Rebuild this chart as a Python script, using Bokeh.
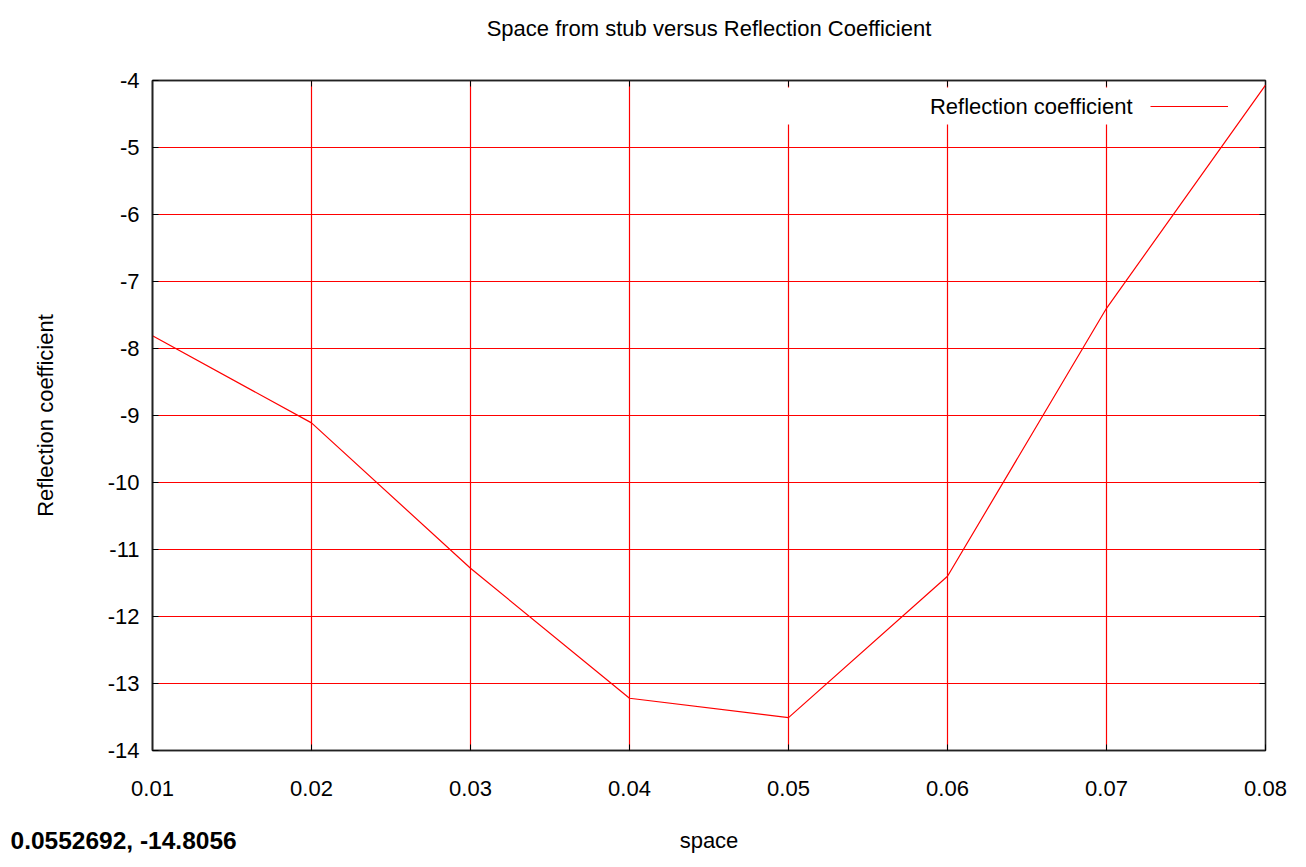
import math
from bokeh.plotting import figure
from bokeh.models import (Range1d, FixedTicker, LinearAxis, Label, BoxAnnotation,
                          Legend, LegendItem, Title, PrintfTickFormatter)
from bokeh.embed import file_html
from bokeh.resources import INLINE

# ---- data ----
space = [0.01, 0.02, 0.03, 0.04, 0.05, 0.06, 0.07, 0.08]
reflection = [-7.81, -9.11, -11.28, -13.22, -13.51, -11.40, -7.40, -4.07]
x_ticks = [0.01, 0.02, 0.03, 0.04, 0.05, 0.06, 0.07, 0.08]
y_ticks = [-14, -13, -12, -11, -10, -9, -8, -7, -6, -5, -4]
x_min, x_max = 0.01, 0.08
y_min, y_max = -14, -4

title_text = "Space from stub versus Reflection Coefficient"
x_label = "space"
y_label = "Reflection coefficient"
series_name = "Reflection coefficient"
coord_text = "0.0552692, -14.8056"

FONT = "Liberation Sans"
RED = "#ff0000"
FS = "22px"
FRAME = "#222222"

p = figure(width=1306, height=867, output_backend="svg", toolbar_location=None,
           x_range=Range1d(x_min, x_max), y_range=Range1d(y_min, y_max),
           x_axis_location=None, y_axis_location=None,
           min_border_left=152, min_border_right=41, min_border_top=80, min_border_bottom=117)
p.background_fill_color = "white"
p.border_fill_color = "white"
p.outline_line_color = FRAME
p.outline_line_width = 1.6

xt = FixedTicker(ticks=x_ticks)
yt = FixedTicker(ticks=y_ticks)


def make_axis(ticker, fmt, standoff):
    ax = LinearAxis(ticker=ticker, formatter=PrintfTickFormatter(format=fmt))
    ax.axis_line_color = FRAME
    ax.axis_line_width = 1.6
    ax.major_tick_in = 6
    ax.major_tick_out = 0
    ax.major_tick_line_color = "black"
    ax.minor_tick_line_color = None
    ax.major_label_text_font = FONT
    ax.major_label_text_color = "black"
    ax.major_label_standoff = standoff
    ax.major_label_text_font_size = FS
    ax.axis_label_text_font = FONT
    ax.axis_label_text_font_size = FS
    ax.axis_label_text_font_style = "normal"
    ax.axis_label_text_color = "black"
    return ax


xb = make_axis(xt, "%.2f", 30)
yl = make_axis(yt, "%d", 13)
xb.axis_label = x_label
xb.axis_label_standoff = 29
yl.axis_label = y_label
yl.axis_label_standoff = 47
p.add_layout(xb, "below")
p.add_layout(yl, "left")

# top axis carries the chart title (no ticks of its own)
xa = make_axis(FixedTicker(ticks=[]), "%.2f", 0)
xa.axis_label = title_text
xa.axis_label_standoff = 40
p.add_layout(xa, "above")

p.xgrid.ticker = xt
p.ygrid.ticker = yt
for g in (p.xgrid, p.ygrid):
    g.grid_line_color = RED
    g.grid_line_width = 1.2
    g.grid_line_alpha = 1.0
    g.level = "image"

# mirrored inward ticks on the top and right borders
p.scatter(x=x_ticks, y=[y_max] * len(x_ticks), marker="dash", angle=math.pi / 2,
          size=12, line_color="black", line_width=1)
p.scatter(x=[x_max] * len(y_ticks), y=y_ticks, marker="dash",
          size=12, line_color="black", line_width=1)

# white key box that hides gridlines
box = BoxAnnotation(left=610, right=1088, top=663, bottom=626,
                    left_units="screen", right_units="screen",
                    top_units="screen", bottom_units="screen",
                    fill_color="white", fill_alpha=1.0, line_color=None, level="underlay")
p.add_layout(box)

r = p.line(space, reflection, line_color=RED, line_width=1.2)

# key: text on the left, sample line on the right
p.add_layout(Label(x=980, y=644, x_units="screen", y_units="screen", text=series_name,
                   text_font=FONT, text_font_size=FS, text_align="right",
                   text_baseline="middle", text_color="black"))
leg = Legend(items=[LegendItem(label=" ", renderers=[r])], location=(998, 643),
             padding=0, margin=0, spacing=0, label_standoff=0, label_width=0, label_height=0,
             glyph_height=2, glyph_width=78, label_text_font_size="1px",
             background_fill_alpha=0, border_line_color=None)
p.add_layout(leg, "center")

# pointer coordinates readout (bottom-left)
p.add_layout(Title(text=coord_text, align="left", offset=-142, standoff=-58,
                   vertical_align="top",
                   text_font=FONT, text_font_size="24.5px", text_font_style="bold",
                   text_color="black"), "below")

open("out.html", "w").write(file_html(p, INLINE))
